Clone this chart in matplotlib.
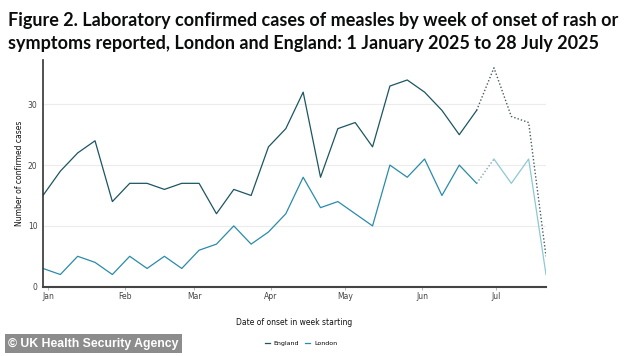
import matplotlib.pyplot as plt
import matplotlib.dates as mdates
import numpy as np
import pandas as pd

weeks = pd.date_range('2024-12-30', periods=30, freq='7D')
england = [15, 19, 22, 24, 14, 17, 17, 16, 17, 17, 12, 16, 15, 23, 26, 32, 18, 26, 27, 23,
           33, 34, 32, 29, 25, 29, 36, 28, 27, 5]
london = [3, 2, 5, 4, 2, 5, 3, 5, 3, 6, 7, 10, 7, 9, 12, 18, 13, 14, 12, 10,
          20, 18, 21, 15, 20, 17, 21, 17, 21, 2]
n_final = 26  # last weeks are provisional

c_eng = '#1d5562'
c_lon = '#2b8ba8'
c_lon_light = '#8fc8d4'

fig = plt.figure(figsize=(6.34, 3.56), dpi=100)
ax = fig.add_axes([0.0678, 0.1947, 0.7934, 0.637])

ax.plot(weeks[:n_final], england[:n_final], c=c_eng, lw=0.9, label='England')
ax.plot(weeks[:n_final], london[:n_final], c=c_lon, lw=0.9, label='London')
ax.plot(weeks[n_final - 1:], england[n_final - 1:], c='#4a5a5e', lw=1.0, ls=(0, (1, 1.5)))
ax.plot(weeks[n_final - 1:n_final + 1], london[n_final - 1:n_final + 1], c='#7fa8b0', lw=1.0, ls=(0, (1, 1.5)))
ax.plot(weeks[n_final:], london[n_final:], c=c_lon_light, lw=0.9)

ax.set_xlim(weeks[0], weeks[-1])
ax.set_ylim(0, 37.3)
ax.set_yticks([0, 10, 20, 30])
ax.grid(axis='y', color='#ececec', lw=0.8)
ax.set_axisbelow(True)

ax.xaxis.set_major_locator(mdates.MonthLocator())
ax.xaxis.set_major_formatter(mdates.DateFormatter('%b'))
ax.tick_params(axis='x', length=2, width=0.5, color='#999999', labelsize=5.5, labelcolor='#444444', pad=2)
ax.tick_params(axis='y', length=0, labelsize=5.5, labelcolor='#444444', pad=4)

for s in ['top', 'right']:
    ax.spines[s].set_visible(False)
ax.spines['left'].set_color('#333333')
ax.spines['left'].set_linewidth(1.2)
ax.spines['bottom'].set_color('#444444')
ax.spines['bottom'].set_linewidth(1.5)

ax.set_ylabel('Number of confirmed cases', fontsize=5.5, color='#111111', labelpad=3)
ax.set_xlabel('Date of onset in week starting', fontsize=5.5, color='#111111', labelpad=12)

fig.text(0.013, 0.91, 'Figure 2. Laboratory confirmed cases of measles by week of onset of rash or\n'
         'symptoms reported, London and England: 1 January 2025 to 28 July 2025',
         fontsize=13, fontweight='bold', family='Lato', color='#0b0c0c', va='center', linespacing=1.4)

leg = fig.legend(loc='center', bbox_to_anchor=(0.475, 0.036), ncol=2, frameon=False,
                 fontsize=4.5, handlelength=0.8, columnspacing=1.0, handletextpad=0.6)

fig.text(0.013, 0.035, '\u00a9 UK Health Security Agency', fontsize=8.8, fontweight='bold',
         family='Liberation Sans', color='white', va='center', ha='left',
         bbox=dict(boxstyle='square,pad=0.3', fc='#8c8c8c', ec='none'))

fig.savefig('out.png', dpi=100)
